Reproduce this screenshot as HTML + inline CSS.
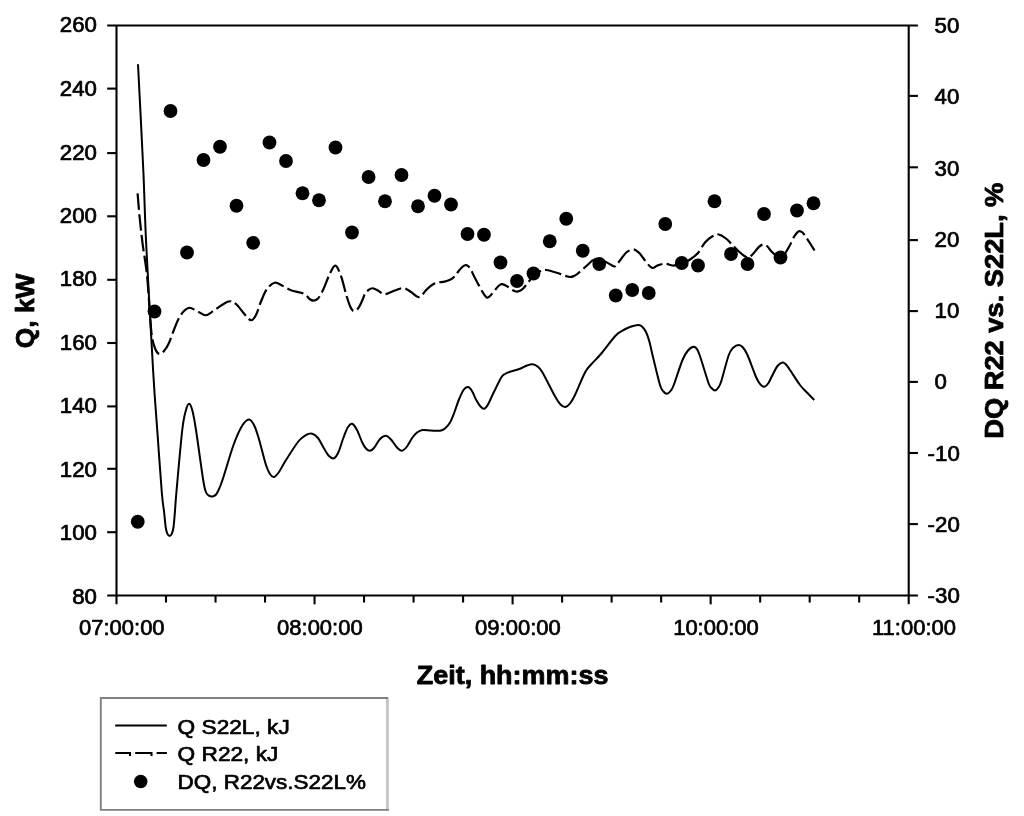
<!DOCTYPE html>
<html lang="de">
<head>
<meta charset="utf-8">
<title>Q, kW / DQ R22 vs. S22L</title>
<style>
html,body{margin:0;padding:0;background:#fff;}
body{width:1024px;height:816px;overflow:hidden;font-family:"Liberation Sans",sans-serif;}
svg{display:block;}
</style>
</head>
<body>
<svg width="1024" height="816" viewBox="0 0 1024 816">
<rect x="0" y="0" width="1024" height="816" fill="#fff"/>
<g stroke="#000" stroke-width="2.1" fill="none" stroke-linecap="butt">
<line x1="116.5" y1="25.45" x2="116.5" y2="604.3499999999999"/>
<line x1="908.7" y1="25.45" x2="908.7" y2="604.3499999999999"/>
<line x1="107.2" y1="25.45" x2="917.9000000000001" y2="25.45"/>
<line x1="107.2" y1="595.55" x2="917.9000000000001" y2="595.55"/>
<line x1="107.2" y1="88.60" x2="116.5" y2="88.60"/>
<line x1="107.2" y1="153.10" x2="116.5" y2="153.10"/>
<line x1="107.2" y1="216.30" x2="116.5" y2="216.30"/>
<line x1="107.2" y1="279.80" x2="116.5" y2="279.80"/>
<line x1="107.2" y1="343.00" x2="116.5" y2="343.00"/>
<line x1="107.2" y1="406.40" x2="116.5" y2="406.40"/>
<line x1="107.2" y1="468.80" x2="116.5" y2="468.80"/>
<line x1="107.2" y1="532.20" x2="116.5" y2="532.20"/>
<line x1="908.7" y1="95.90" x2="917.9000000000001" y2="95.90"/>
<line x1="908.7" y1="167.30" x2="917.9000000000001" y2="167.30"/>
<line x1="908.7" y1="240.10" x2="917.9000000000001" y2="240.10"/>
<line x1="908.7" y1="311.10" x2="917.9000000000001" y2="311.10"/>
<line x1="908.7" y1="381.90" x2="917.9000000000001" y2="381.90"/>
<line x1="908.7" y1="453.00" x2="917.9000000000001" y2="453.00"/>
<line x1="908.7" y1="524.10" x2="917.9000000000001" y2="524.10"/>
<line x1="166.01" y1="595.55" x2="166.01" y2="602.55"/>
<line x1="215.53" y1="595.55" x2="215.53" y2="602.55"/>
<line x1="265.04" y1="595.55" x2="265.04" y2="602.55"/>
<line x1="314.55" y1="595.55" x2="314.55" y2="604.3499999999999"/>
<line x1="364.06" y1="595.55" x2="364.06" y2="602.55"/>
<line x1="413.58" y1="595.55" x2="413.58" y2="602.55"/>
<line x1="463.09" y1="595.55" x2="463.09" y2="602.55"/>
<line x1="512.60" y1="595.55" x2="512.60" y2="604.3499999999999"/>
<line x1="562.11" y1="595.55" x2="562.11" y2="602.55"/>
<line x1="611.62" y1="595.55" x2="611.62" y2="602.55"/>
<line x1="661.14" y1="595.55" x2="661.14" y2="602.55"/>
<line x1="710.65" y1="595.55" x2="710.65" y2="604.3499999999999"/>
<line x1="760.16" y1="595.55" x2="760.16" y2="602.55"/>
<line x1="809.68" y1="595.55" x2="809.68" y2="602.55"/>
<line x1="859.19" y1="595.55" x2="859.19" y2="602.55"/>
</g>
<text transform="translate(97.00,32.41) scale(1.0400,1)" font-family="'Liberation Sans', sans-serif" font-size="21.40" text-anchor="end" fill="#000" stroke="#000" stroke-width="0.70" stroke-linejoin="round">260</text>
<text transform="translate(97.00,96.45) scale(1.0400,1)" font-family="'Liberation Sans', sans-serif" font-size="21.40" text-anchor="end" fill="#000" stroke="#000" stroke-width="0.70" stroke-linejoin="round">240</text>
<text transform="translate(97.00,159.80) scale(1.0400,1)" font-family="'Liberation Sans', sans-serif" font-size="21.40" text-anchor="end" fill="#000" stroke="#000" stroke-width="0.70" stroke-linejoin="round">220</text>
<text transform="translate(97.00,223.14) scale(1.0400,1)" font-family="'Liberation Sans', sans-serif" font-size="21.40" text-anchor="end" fill="#000" stroke="#000" stroke-width="0.70" stroke-linejoin="round">200</text>
<text transform="translate(97.00,286.49) scale(1.0400,1)" font-family="'Liberation Sans', sans-serif" font-size="21.40" text-anchor="end" fill="#000" stroke="#000" stroke-width="0.70" stroke-linejoin="round">180</text>
<text transform="translate(97.00,349.83) scale(1.0400,1)" font-family="'Liberation Sans', sans-serif" font-size="21.40" text-anchor="end" fill="#000" stroke="#000" stroke-width="0.70" stroke-linejoin="round">160</text>
<text transform="translate(97.00,413.18) scale(1.0400,1)" font-family="'Liberation Sans', sans-serif" font-size="21.40" text-anchor="end" fill="#000" stroke="#000" stroke-width="0.70" stroke-linejoin="round">140</text>
<text transform="translate(97.00,476.52) scale(1.0400,1)" font-family="'Liberation Sans', sans-serif" font-size="21.40" text-anchor="end" fill="#000" stroke="#000" stroke-width="0.70" stroke-linejoin="round">120</text>
<text transform="translate(97.00,539.87) scale(1.0400,1)" font-family="'Liberation Sans', sans-serif" font-size="21.40" text-anchor="end" fill="#000" stroke="#000" stroke-width="0.70" stroke-linejoin="round">100</text>
<text transform="translate(97.00,603.81) scale(1.0400,1)" font-family="'Liberation Sans', sans-serif" font-size="21.40" text-anchor="end" fill="#000" stroke="#000" stroke-width="0.70" stroke-linejoin="round">80</text>
<text transform="translate(934.60,33.11) scale(1.0400,1)" font-family="'Liberation Sans', sans-serif" font-size="21.40" text-anchor="start" fill="#000" stroke="#000" stroke-width="0.70" stroke-linejoin="round">50</text>
<text transform="translate(934.60,104.37) scale(1.0400,1)" font-family="'Liberation Sans', sans-serif" font-size="21.40" text-anchor="start" fill="#000" stroke="#000" stroke-width="0.70" stroke-linejoin="round">40</text>
<text transform="translate(934.60,175.63) scale(1.0400,1)" font-family="'Liberation Sans', sans-serif" font-size="21.40" text-anchor="start" fill="#000" stroke="#000" stroke-width="0.70" stroke-linejoin="round">30</text>
<text transform="translate(934.60,246.90) scale(1.0400,1)" font-family="'Liberation Sans', sans-serif" font-size="21.40" text-anchor="start" fill="#000" stroke="#000" stroke-width="0.70" stroke-linejoin="round">20</text>
<text transform="translate(934.60,318.16) scale(1.0400,1)" font-family="'Liberation Sans', sans-serif" font-size="21.40" text-anchor="start" fill="#000" stroke="#000" stroke-width="0.70" stroke-linejoin="round">10</text>
<text transform="translate(934.60,389.42) scale(1.0400,1)" font-family="'Liberation Sans', sans-serif" font-size="21.40" text-anchor="start" fill="#000" stroke="#000" stroke-width="0.70" stroke-linejoin="round">0</text>
<text transform="translate(927.60,460.68) scale(1.0400,1)" font-family="'Liberation Sans', sans-serif" font-size="21.40" text-anchor="start" fill="#000" stroke="#000" stroke-width="0.70" stroke-linejoin="round">-10</text>
<text transform="translate(927.60,531.95) scale(1.0400,1)" font-family="'Liberation Sans', sans-serif" font-size="21.40" text-anchor="start" fill="#000" stroke="#000" stroke-width="0.70" stroke-linejoin="round">-20</text>
<text transform="translate(927.60,603.21) scale(1.0400,1)" font-family="'Liberation Sans', sans-serif" font-size="21.40" text-anchor="start" fill="#000" stroke="#000" stroke-width="0.70" stroke-linejoin="round">-30</text>
<text transform="translate(121.80,635.40) scale(1.0280,1)" font-family="'Liberation Sans', sans-serif" font-size="21.40" text-anchor="middle" fill="#000" stroke="#000" stroke-width="0.70" stroke-linejoin="round">07:00:00</text>
<text transform="translate(319.85,635.40) scale(1.0280,1)" font-family="'Liberation Sans', sans-serif" font-size="21.40" text-anchor="middle" fill="#000" stroke="#000" stroke-width="0.70" stroke-linejoin="round">08:00:00</text>
<text transform="translate(517.90,635.40) scale(1.0280,1)" font-family="'Liberation Sans', sans-serif" font-size="21.40" text-anchor="middle" fill="#000" stroke="#000" stroke-width="0.70" stroke-linejoin="round">09:00:00</text>
<text transform="translate(715.95,635.40) scale(1.0280,1)" font-family="'Liberation Sans', sans-serif" font-size="21.40" text-anchor="middle" fill="#000" stroke="#000" stroke-width="0.70" stroke-linejoin="round">10:00:00</text>
<text transform="translate(914.00,635.40) scale(1.0280,1)" font-family="'Liberation Sans', sans-serif" font-size="21.40" text-anchor="middle" fill="#000" stroke="#000" stroke-width="0.70" stroke-linejoin="round">11:00:00</text>
<text transform="translate(512.60,684.00) scale(1.0250,1)" font-family="'Liberation Sans', sans-serif" font-size="26.30" font-weight="bold" text-anchor="middle" fill="#000" stroke="#000" stroke-width="0.80" stroke-linejoin="round">Zeit, hh:mm:ss</text>
<text transform="translate(34.00,310.90) rotate(-90)" font-family="'Liberation Sans', sans-serif" font-size="26.30" font-weight="bold" text-anchor="middle" fill="#000" stroke="#000" stroke-width="0.80" stroke-linejoin="round">Q, kW</text>
<text transform="translate(1003.10,310.70) rotate(-90) scale(1.0370,1)" font-family="'Liberation Sans', sans-serif" font-size="26.30" font-weight="bold" text-anchor="middle" fill="#000" stroke="#000" stroke-width="0.80" stroke-linejoin="round">DQ R22 vs. S22L, %</text>
<path d="M138.00,64.25 C138.88,81.88 141.93,140.04 143.30,170.00 C144.67,199.96 144.55,210.33 146.20,244.00 C147.85,277.67 151.36,341.00 153.20,372.00 C155.04,403.00 155.82,409.92 157.25,430.00 C158.68,450.08 160.66,478.83 161.80,492.50 C162.94,506.17 163.45,506.21 164.10,512.00 C164.75,517.79 165.17,523.65 165.70,527.25 C166.23,530.85 166.65,532.14 167.30,533.60 C167.95,535.06 168.83,536.00 169.60,536.00 C170.37,536.00 171.25,535.06 171.90,533.60 C172.55,532.14 173.00,530.85 173.50,527.25 C174.00,523.65 174.42,517.79 174.90,512.00 C175.38,506.21 175.18,506.17 176.40,492.50 C177.62,478.83 180.65,443.75 182.25,430.00 C183.85,416.25 184.83,414.38 186.00,410.00 C187.17,405.62 188.17,403.58 189.25,403.75 C190.33,403.92 191.38,406.62 192.50,411.00 C193.62,415.38 194.22,418.50 196.00,430.00 C197.78,441.50 201.55,469.67 203.20,480.00 C204.85,490.33 205.02,489.43 205.90,492.00 C206.78,494.57 207.52,494.63 208.50,495.40 C209.48,496.17 210.72,496.60 211.80,496.60 C212.88,496.60 214.03,496.17 215.00,495.40 C215.97,494.63 216.35,494.57 217.60,492.00 C218.85,489.43 219.85,487.83 222.50,480.00 C225.15,472.17 230.25,454.00 233.50,445.00 C236.75,436.00 239.42,430.25 242.00,426.00 C244.58,421.75 247.00,419.67 249.00,419.50 C251.00,419.33 252.42,422.00 254.00,425.00 C255.58,428.00 256.50,430.83 258.50,437.50 C260.50,444.17 264.08,458.92 266.00,465.00 C267.92,471.08 268.67,472.00 270.00,474.00 C271.33,476.00 272.50,477.33 274.00,477.00 C275.50,476.67 277.00,474.83 279.00,472.00 C281.00,469.17 282.75,465.12 286.00,460.00 C289.25,454.88 295.17,445.42 298.50,441.25 C301.83,437.08 303.71,436.25 306.00,435.00 C308.29,433.75 310.25,433.25 312.25,433.75 C314.25,434.25 316.12,435.71 318.00,438.00 C319.88,440.29 321.67,444.50 323.50,447.50 C325.33,450.50 327.25,454.21 329.00,456.00 C330.75,457.79 332.42,458.92 334.00,458.25 C335.58,457.58 336.92,455.46 338.50,452.00 C340.08,448.54 341.92,441.67 343.50,437.50 C345.08,433.33 346.54,429.29 348.00,427.00 C349.46,424.71 350.75,423.25 352.25,423.75 C353.75,424.25 355.33,426.88 357.00,430.00 C358.67,433.12 360.75,439.42 362.25,442.50 C363.75,445.58 364.71,447.12 366.00,448.50 C367.29,449.88 368.67,450.83 370.00,450.75 C371.33,450.67 372.33,449.96 374.00,448.00 C375.67,446.04 378.04,441.04 380.00,439.00 C381.96,436.96 383.92,435.67 385.75,435.75 C387.58,435.83 389.12,437.54 391.00,439.50 C392.88,441.46 395.17,445.62 397.00,447.50 C398.83,449.38 400.33,450.92 402.00,450.75 C403.67,450.58 405.25,448.71 407.00,446.50 C408.75,444.29 410.83,439.83 412.50,437.50 C414.17,435.17 415.33,433.75 417.00,432.50 C418.67,431.25 420.17,430.33 422.50,430.00 C424.83,429.67 428.08,430.38 431.00,430.50 C433.92,430.62 437.67,431.08 440.00,430.75 C442.33,430.42 443.33,429.88 445.00,428.50 C446.67,427.12 448.42,425.25 450.00,422.50 C451.58,419.75 453.04,415.75 454.50,412.00 C455.96,408.25 457.25,403.67 458.75,400.00 C460.25,396.33 461.96,392.17 463.50,390.00 C465.04,387.83 466.58,386.83 468.00,387.00 C469.42,387.17 470.62,388.83 472.00,391.00 C473.38,393.17 474.83,397.42 476.25,400.00 C477.67,402.58 479.17,405.04 480.50,406.50 C481.83,407.96 483.00,409.08 484.25,408.75 C485.50,408.42 486.62,406.79 488.00,404.50 C489.38,402.21 490.29,399.50 492.50,395.00 C494.71,390.50 499.17,381.00 501.25,377.50 C503.33,374.00 503.54,374.96 505.00,374.00 C506.46,373.04 507.50,372.62 510.00,371.75 C512.50,370.88 517.17,369.79 520.00,368.75 C522.83,367.71 524.92,366.25 527.00,365.50 C529.08,364.75 530.75,364.08 532.50,364.25 C534.25,364.42 535.83,365.12 537.50,366.50 C539.17,367.88 539.58,367.54 542.50,372.50 C545.42,377.46 552.00,390.92 555.00,396.25 C558.00,401.58 558.75,402.71 560.50,404.50 C562.25,406.29 563.92,407.17 565.50,407.00 C567.08,406.83 568.42,405.50 570.00,403.50 C571.58,401.50 572.50,400.17 575.00,395.00 C577.50,389.83 582.25,377.67 585.00,372.50 C587.75,367.33 589.00,366.92 591.50,364.00 C594.00,361.08 596.08,359.62 600.00,355.00 C603.92,350.38 611.50,340.17 615.00,336.25 C618.50,332.33 618.92,332.88 621.00,331.50 C623.08,330.12 625.33,328.96 627.50,328.00 C629.67,327.04 632.12,326.25 634.00,325.75 C635.88,325.25 637.33,324.79 638.75,325.00 C640.17,325.21 641.25,325.75 642.50,327.00 C643.75,328.25 645.08,330.00 646.25,332.50 C647.42,335.00 648.46,338.25 649.50,342.00 C650.54,345.75 650.75,347.83 652.50,355.00 C654.25,362.17 658.17,378.92 660.00,385.00 C661.83,391.08 662.33,390.04 663.50,391.50 C664.67,392.96 665.83,393.83 667.00,393.75 C668.17,393.67 669.38,392.46 670.50,391.00 C671.62,389.54 671.75,390.17 673.75,385.00 C675.75,379.83 680.12,365.75 682.50,360.00 C684.88,354.25 686.12,352.71 688.00,350.50 C689.88,348.29 692.17,346.83 693.75,346.75 C695.33,346.67 696.25,347.79 697.50,350.00 C698.75,352.21 699.38,354.38 701.25,360.00 C703.12,365.62 706.96,379.00 708.75,383.75 C710.54,388.50 710.96,387.38 712.00,388.50 C713.04,389.62 714.00,390.58 715.00,390.50 C716.00,390.42 716.96,389.54 718.00,388.00 C719.04,386.46 719.46,386.75 721.25,381.25 C723.04,375.75 726.71,360.62 728.75,355.00 C730.79,349.38 731.83,349.17 733.50,347.50 C735.17,345.83 737.17,345.00 738.75,345.00 C740.33,345.00 741.54,345.83 743.00,347.50 C744.46,349.17 745.29,350.00 747.50,355.00 C749.71,360.00 754.08,372.58 756.25,377.50 C758.42,382.42 759.12,382.96 760.50,384.50 C761.88,386.04 763.17,387.00 764.50,386.75 C765.83,386.50 767.17,384.96 768.50,383.00 C769.83,381.04 771.00,377.83 772.50,375.00 C774.00,372.17 775.83,368.08 777.50,366.00 C779.17,363.92 781.08,362.75 782.50,362.50 C783.92,362.25 784.75,363.25 786.00,364.50 C787.25,365.75 787.67,366.58 790.00,370.00 C792.33,373.42 797.17,381.25 800.00,385.00 C802.83,388.75 804.62,390.00 807.00,392.50 C809.38,395.00 813.04,398.75 814.25,400.00" fill="none" stroke="#000" stroke-width="2.0" stroke-linejoin="round"/>
<path d="M137.60,193.30 C137.92,197.08 138.68,207.72 139.50,216.00 C140.32,224.28 141.25,233.10 142.50,243.00 C143.75,252.90 145.75,263.40 147.00,275.40 C148.25,287.40 149.17,304.73 150.00,315.00 C150.83,325.27 151.08,331.25 152.00,337.00 C152.92,342.75 154.25,346.67 155.50,349.50 C156.75,352.33 158.08,353.75 159.50,354.00 C160.92,354.25 162.50,352.67 164.00,351.00 C165.50,349.33 166.92,347.33 168.50,344.00 C170.08,340.67 171.83,335.17 173.50,331.00 C175.17,326.83 176.75,322.33 178.50,319.00 C180.25,315.67 182.12,312.88 184.00,311.00 C185.88,309.12 187.58,307.75 189.75,307.75 C191.92,307.75 194.29,309.75 197.00,311.00 C199.71,312.25 202.83,315.58 206.00,315.25 C209.17,314.92 212.25,311.29 216.00,309.00 C219.75,306.71 225.17,302.33 228.50,301.50 C231.83,300.67 233.42,302.00 236.00,304.00 C238.58,306.00 241.50,310.79 244.00,313.50 C246.50,316.21 249.00,320.00 251.00,320.25 C253.00,320.50 254.33,318.12 256.00,315.00 C257.67,311.88 259.17,305.83 261.00,301.50 C262.83,297.17 264.71,292.12 267.00,289.00 C269.29,285.88 272.25,283.33 274.75,282.75 C277.25,282.17 279.29,284.25 282.00,285.50 C284.71,286.75 287.33,288.88 291.00,290.25 C294.67,291.62 300.92,292.24 304.00,293.70 C307.08,295.16 307.90,297.83 309.50,299.00 C311.10,300.17 312.18,300.78 313.60,300.70 C315.02,300.62 316.35,300.45 318.00,298.50 C319.65,296.55 321.58,293.00 323.50,289.00 C325.42,285.00 327.53,278.38 329.50,274.50 C331.47,270.62 333.38,265.45 335.30,265.70 C337.22,265.95 339.22,271.28 341.00,276.00 C342.78,280.72 344.50,289.00 346.00,294.00 C347.50,299.00 348.75,303.17 350.00,306.00 C351.25,308.83 352.17,310.58 353.50,311.00 C354.83,311.42 356.58,310.17 358.00,308.50 C359.42,306.83 360.83,303.46 362.00,301.00 C363.17,298.54 363.92,295.58 365.00,293.75 C366.08,291.92 367.25,290.92 368.50,290.00 C369.75,289.08 370.92,288.17 372.50,288.25 C374.08,288.33 376.12,289.50 378.00,290.50 C379.88,291.50 381.75,293.92 383.75,294.25 C385.75,294.58 387.92,293.21 390.00,292.50 C392.08,291.79 393.96,290.75 396.25,290.00 C398.54,289.25 401.29,287.67 403.75,288.00 C406.21,288.33 408.62,290.50 411.00,292.00 C413.38,293.50 416.17,296.50 418.00,297.00 C419.83,297.50 420.62,296.17 422.00,295.00 C423.38,293.83 424.58,291.67 426.25,290.00 C427.92,288.33 430.07,286.25 432.00,285.00 C433.93,283.75 435.70,283.07 437.80,282.50 C439.90,281.93 442.32,282.18 444.60,281.60 C446.88,281.02 449.77,279.93 451.50,279.00 C453.23,278.07 453.87,277.25 455.00,276.00 C456.13,274.75 457.13,272.95 458.30,271.50 C459.47,270.05 460.87,268.33 462.00,267.30 C463.13,266.27 464.10,265.52 465.10,265.30 C466.10,265.08 467.02,265.22 468.00,266.00 C468.98,266.78 469.88,268.07 471.00,270.00 C472.12,271.93 473.40,275.08 474.70,277.60 C476.00,280.12 477.42,282.58 478.80,285.10 C480.18,287.62 481.63,290.62 483.00,292.70 C484.37,294.78 485.75,297.13 487.00,297.60 C488.25,298.07 489.23,296.67 490.50,295.50 C491.77,294.33 493.27,292.18 494.60,290.60 C495.93,289.02 497.25,287.07 498.50,286.00 C499.75,284.93 500.37,283.97 502.10,284.20 C503.83,284.43 507.12,286.40 508.90,287.40 C510.68,288.40 511.53,289.50 512.80,290.20 C514.07,290.90 515.30,291.52 516.50,291.60 C517.70,291.68 518.88,291.22 520.00,290.70 C521.12,290.18 521.85,289.88 523.20,288.50 C524.55,287.12 526.13,284.73 528.10,282.40 C530.07,280.07 532.93,276.40 535.00,274.50 C537.07,272.60 538.62,271.75 540.50,271.00 C542.38,270.25 543.42,269.67 546.25,270.00 C549.08,270.33 554.54,272.08 557.50,273.00 C560.46,273.92 561.92,274.83 564.00,275.50 C566.08,276.17 568.33,276.92 570.00,277.00 C571.67,277.08 572.75,276.54 574.00,276.00 C575.25,275.46 575.25,275.58 577.50,273.75 C579.75,271.92 585.00,267.21 587.50,265.00 C590.00,262.79 590.83,261.54 592.50,260.50 C594.17,259.46 595.42,258.58 597.50,258.75 C599.58,258.92 602.29,260.25 605.00,261.50 C607.71,262.75 611.92,265.67 613.75,266.25 C615.58,266.83 615.17,265.71 616.00,265.00 C616.83,264.29 617.04,264.08 618.75,262.00 C620.46,259.92 623.96,254.58 626.25,252.50 C628.54,250.42 630.88,249.83 632.50,249.50 C634.12,249.17 634.75,249.79 636.00,250.50 C637.25,251.21 638.08,251.54 640.00,253.75 C641.92,255.96 645.42,261.38 647.50,263.75 C649.58,266.12 650.83,267.71 652.50,268.00 C654.17,268.29 655.42,266.21 657.50,265.50 C659.58,264.79 662.50,263.75 665.00,263.75 C667.50,263.75 670.50,265.29 672.50,265.50 C674.50,265.71 675.46,265.33 677.00,265.00 C678.54,264.67 679.58,264.42 681.75,263.50 C683.92,262.58 687.29,261.25 690.00,259.50 C692.71,257.75 695.50,255.83 698.00,253.00 C700.50,250.17 702.58,245.29 705.00,242.50 C707.42,239.71 710.21,237.58 712.50,236.25 C714.79,234.92 716.46,234.08 718.75,234.50 C721.04,234.92 723.96,237.00 726.25,238.75 C728.54,240.50 730.21,242.71 732.50,245.00 C734.79,247.29 737.50,250.42 740.00,252.50 C742.50,254.58 745.50,257.08 747.50,257.50 C749.50,257.92 750.54,256.25 752.00,255.00 C753.46,253.75 754.92,251.50 756.25,250.00 C757.58,248.50 758.75,246.92 760.00,246.00 C761.25,245.08 762.50,244.42 763.75,244.50 C765.00,244.58 766.25,245.38 767.50,246.50 C768.75,247.62 769.83,249.75 771.25,251.25 C772.67,252.75 774.54,254.46 776.00,255.50 C777.46,256.54 778.50,257.83 780.00,257.50 C781.50,257.17 783.33,255.58 785.00,253.50 C786.67,251.42 788.42,247.92 790.00,245.00 C791.58,242.08 793.04,238.29 794.50,236.00 C795.96,233.71 797.42,231.83 798.75,231.25 C800.08,230.67 801.25,231.46 802.50,232.50 C803.75,233.54 804.92,235.58 806.25,237.50 C807.58,239.42 809.12,241.83 810.50,244.00 C811.88,246.17 813.83,249.42 814.50,250.50" fill="none" stroke="#000" stroke-width="2.2" stroke-dasharray="16.65 4.3" stroke-linejoin="round"/>
<g fill="#000">
<circle cx="137.75" cy="521.75" r="6.9"/>
<circle cx="154.50" cy="311.50" r="6.9"/>
<circle cx="170.50" cy="111.00" r="6.9"/>
<circle cx="187.00" cy="252.50" r="6.9"/>
<circle cx="203.50" cy="160.00" r="6.9"/>
<circle cx="220.00" cy="146.75" r="6.9"/>
<circle cx="236.50" cy="205.75" r="6.9"/>
<circle cx="253.15" cy="242.80" r="6.9"/>
<circle cx="269.50" cy="142.50" r="6.9"/>
<circle cx="286.00" cy="161.00" r="6.9"/>
<circle cx="302.50" cy="193.25" r="6.9"/>
<circle cx="319.00" cy="200.25" r="6.9"/>
<circle cx="335.50" cy="147.50" r="6.9"/>
<circle cx="352.00" cy="232.50" r="6.9"/>
<circle cx="368.60" cy="177.00" r="6.9"/>
<circle cx="385.00" cy="201.25" r="6.9"/>
<circle cx="401.50" cy="175.00" r="6.9"/>
<circle cx="418.00" cy="206.25" r="6.9"/>
<circle cx="434.50" cy="195.75" r="6.9"/>
<circle cx="451.00" cy="204.50" r="6.9"/>
<circle cx="467.50" cy="234.00" r="6.9"/>
<circle cx="484.00" cy="234.75" r="6.9"/>
<circle cx="500.50" cy="262.50" r="6.9"/>
<circle cx="517.00" cy="281.00" r="6.9"/>
<circle cx="533.50" cy="273.50" r="6.9"/>
<circle cx="549.75" cy="241.25" r="6.9"/>
<circle cx="566.25" cy="218.75" r="6.9"/>
<circle cx="582.75" cy="250.75" r="6.9"/>
<circle cx="599.25" cy="264.00" r="6.9"/>
<circle cx="615.75" cy="295.50" r="6.9"/>
<circle cx="632.25" cy="290.00" r="6.9"/>
<circle cx="648.75" cy="293.00" r="6.9"/>
<circle cx="665.25" cy="224.00" r="6.9"/>
<circle cx="681.75" cy="263.00" r="6.9"/>
<circle cx="698.00" cy="265.50" r="6.9"/>
<circle cx="714.50" cy="201.25" r="6.9"/>
<circle cx="731.00" cy="254.00" r="6.9"/>
<circle cx="747.50" cy="264.00" r="6.9"/>
<circle cx="764.00" cy="214.00" r="6.9"/>
<circle cx="780.50" cy="257.50" r="6.9"/>
<circle cx="797.00" cy="210.50" r="6.9"/>
<circle cx="813.50" cy="203.25" r="6.9"/>
</g>
<rect x="100.8" y="698" width="286.6" height="111.9" fill="#fff"/>
<line x1="387.4" y1="699" x2="387.4" y2="810.8" stroke="#c6c6c6" stroke-width="3"/>
<path d="M387.3,698 H100.8 V809.9 H387.9" fill="none" stroke="#808080" stroke-width="1.9" stroke-linejoin="miter" stroke-linecap="square"/>
<line x1="115.2" y1="725.5" x2="166.8" y2="725.5" stroke="#000" stroke-width="2.1"/>
<path d="M115.3,753 H131 M135.2,753 H152.5 M156.6,753 H166.9 M130,753 V756 M151.5,753 V756" stroke="#000" stroke-width="2.1" fill="none"/>
<circle cx="140.7" cy="781.5" r="6.8" fill="#000"/>
<text transform="translate(177.60,733.60) scale(1.0750,1)" font-family="'Liberation Sans', sans-serif" font-size="21.10" text-anchor="start" fill="#000" stroke="#000" stroke-width="0.70" stroke-linejoin="round">Q S22L, kJ</text>
<text transform="translate(177.60,761.00) scale(1.0750,1)" font-family="'Liberation Sans', sans-serif" font-size="21.10" text-anchor="start" fill="#000" stroke="#000" stroke-width="0.70" stroke-linejoin="round">Q R22, kJ</text>
<text transform="translate(177.60,788.90) scale(1.0640,1)" font-family="'Liberation Sans', sans-serif" font-size="21.10" text-anchor="start" fill="#000" stroke="#000" stroke-width="0.70" stroke-linejoin="round">DQ, R22vs.S22L%</text>
</svg>
</body>
</html>
